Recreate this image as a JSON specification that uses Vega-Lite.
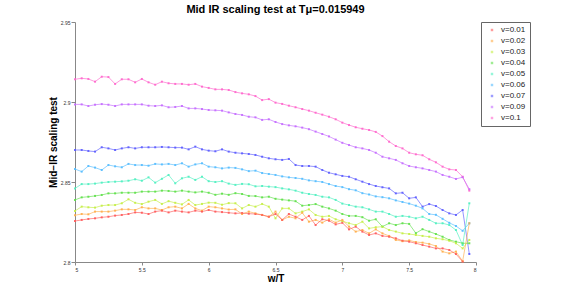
{
"$schema": "https://vega.github.io/schema/vega-lite/v6.json",
"width": 401, "height": 240,
"autosize": {"type": "none"},
"padding": {"left": 75, "top": 22, "right": 105, "bottom": 32},
"title": {"text": "Mid IR scaling test at Tμ=0.015949", "font": "Liberation Sans", "fontSize": 11, "fontWeight": "bold", "anchor": "middle", "offset": 5, "color": "#000"},
"config": {"view": {"stroke": null}, "font": "Liberation Sans"},
"data": {"values": [
{"w":5,"s":"v=0.1","y":2.9142},{"w":5.05,"s":"v=0.1","y":2.9148},{"w":5.1,"s":"v=0.1","y":2.9144},{"w":5.15,"s":"v=0.1","y":2.9127},{"w":5.2,"s":"v=0.1","y":2.9158},{"w":5.25,"s":"v=0.1","y":2.9156},{"w":5.3,"s":"v=0.1","y":2.9113},{"w":5.35,"s":"v=0.1","y":2.9142},{"w":5.4,"s":"v=0.1","y":2.9142},{"w":5.45,"s":"v=0.1","y":2.9123},{"w":5.5,"s":"v=0.1","y":2.9144},{"w":5.55,"s":"v=0.1","y":2.9123},{"w":5.6,"s":"v=0.1","y":2.9108},{"w":5.65,"s":"v=0.1","y":2.9127},{"w":5.7,"s":"v=0.1","y":2.9117},{"w":5.75,"s":"v=0.1","y":2.9113},{"w":5.8,"s":"v=0.1","y":2.9113},{"w":5.85,"s":"v=0.1","y":2.9108},{"w":5.9,"s":"v=0.1","y":2.9113},{"w":5.95,"s":"v=0.1","y":2.9096},
{"w":6,"s":"v=0.1","y":2.9088},{"w":6.05,"s":"v=0.1","y":2.9079},{"w":6.1,"s":"v=0.1","y":2.9079},{"w":6.15,"s":"v=0.1","y":2.9075},{"w":6.2,"s":"v=0.1","y":2.9062},{"w":6.25,"s":"v=0.1","y":2.9054},{"w":6.3,"s":"v=0.1","y":2.9048},{"w":6.35,"s":"v=0.1","y":2.9037},{"w":6.4,"s":"v=0.1","y":2.9012},{"w":6.45,"s":"v=0.1","y":2.9018},{"w":6.5,"s":"v=0.1","y":2.8996},{"w":6.55,"s":"v=0.1","y":2.8988},{"w":6.6,"s":"v=0.1","y":2.8977},{"w":6.65,"s":"v=0.1","y":2.8967},{"w":6.7,"s":"v=0.1","y":2.8956},{"w":6.75,"s":"v=0.1","y":2.8946},{"w":6.8,"s":"v=0.1","y":2.8933},{"w":6.85,"s":"v=0.1","y":2.8921},{"w":6.9,"s":"v=0.1","y":2.8908},{"w":6.95,"s":"v=0.1","y":2.8892},
{"w":7,"s":"v=0.1","y":2.8871},{"w":7.05,"s":"v=0.1","y":2.8856},{"w":7.1,"s":"v=0.1","y":2.8842},{"w":7.15,"s":"v=0.1","y":2.8833},{"w":7.2,"s":"v=0.1","y":2.8825},{"w":7.25,"s":"v=0.1","y":2.8813},{"w":7.3,"s":"v=0.1","y":2.8787},{"w":7.35,"s":"v=0.1","y":2.8752},{"w":7.4,"s":"v=0.1","y":2.8725},{"w":7.45,"s":"v=0.1","y":2.871},{"w":7.5,"s":"v=0.1","y":2.8683},{"w":7.55,"s":"v=0.1","y":2.8673},{"w":7.6,"s":"v=0.1","y":2.8667},{"w":7.65,"s":"v=0.1","y":2.8642},{"w":7.7,"s":"v=0.1","y":2.8623},{"w":7.75,"s":"v=0.1","y":2.8596},{"w":7.8,"s":"v=0.1","y":2.8579},{"w":7.85,"s":"v=0.1","y":2.8575},{"w":7.9,"s":"v=0.1","y":2.8533},{"w":7.95,"s":"v=0.1","y":2.8446},

{"w":5,"s":"v=0.09","y":2.8985},{"w":5.05,"s":"v=0.09","y":2.8985},{"w":5.1,"s":"v=0.09","y":2.8975},{"w":5.15,"s":"v=0.09","y":2.8983},{"w":5.2,"s":"v=0.09","y":2.8987},{"w":5.25,"s":"v=0.09","y":2.8983},{"w":5.3,"s":"v=0.09","y":2.8975},{"w":5.35,"s":"v=0.09","y":2.8985},{"w":5.4,"s":"v=0.09","y":2.8985},{"w":5.45,"s":"v=0.09","y":2.8985},{"w":5.5,"s":"v=0.09","y":2.8985},{"w":5.55,"s":"v=0.09","y":2.8977},{"w":5.6,"s":"v=0.09","y":2.8975},{"w":5.65,"s":"v=0.09","y":2.8979},{"w":5.7,"s":"v=0.09","y":2.8967},{"w":5.75,"s":"v=0.09","y":2.8969},{"w":5.8,"s":"v=0.09","y":2.8975},{"w":5.85,"s":"v=0.09","y":2.896},{"w":5.9,"s":"v=0.09","y":2.896},{"w":5.95,"s":"v=0.09","y":2.8956},
{"w":6,"s":"v=0.09","y":2.895},{"w":6.05,"s":"v=0.09","y":2.8948},{"w":6.1,"s":"v=0.09","y":2.8946},{"w":6.15,"s":"v=0.09","y":2.8935},{"w":6.2,"s":"v=0.09","y":2.8925},{"w":6.25,"s":"v=0.09","y":2.8919},{"w":6.3,"s":"v=0.09","y":2.8908},{"w":6.35,"s":"v=0.09","y":2.8904},{"w":6.4,"s":"v=0.09","y":2.8888},{"w":6.45,"s":"v=0.09","y":2.8892},{"w":6.5,"s":"v=0.09","y":2.8875},{"w":6.55,"s":"v=0.09","y":2.8862},{"w":6.6,"s":"v=0.09","y":2.8854},{"w":6.65,"s":"v=0.09","y":2.8848},{"w":6.7,"s":"v=0.09","y":2.884},{"w":6.75,"s":"v=0.09","y":2.883},{"w":6.8,"s":"v=0.09","y":2.8815},{"w":6.85,"s":"v=0.09","y":2.88},{"w":6.9,"s":"v=0.09","y":2.8785},{"w":6.95,"s":"v=0.09","y":2.8765},
{"w":7,"s":"v=0.09","y":2.8745},{"w":7.05,"s":"v=0.09","y":2.8731},{"w":7.1,"s":"v=0.09","y":2.8717},{"w":7.15,"s":"v=0.09","y":2.871},{"w":7.2,"s":"v=0.09","y":2.87},{"w":7.25,"s":"v=0.09","y":2.8683},{"w":7.3,"s":"v=0.09","y":2.8658},{"w":7.35,"s":"v=0.09","y":2.8648},{"w":7.4,"s":"v=0.09","y":2.8638},{"w":7.45,"s":"v=0.09","y":2.8617},{"w":7.5,"s":"v=0.09","y":2.86},{"w":7.55,"s":"v=0.09","y":2.8592},{"w":7.6,"s":"v=0.09","y":2.8585},{"w":7.65,"s":"v=0.09","y":2.8575},{"w":7.7,"s":"v=0.09","y":2.8565},{"w":7.75,"s":"v=0.09","y":2.8544},{"w":7.8,"s":"v=0.09","y":2.8533},{"w":7.85,"s":"v=0.09","y":2.8519},{"w":7.9,"s":"v=0.09","y":2.853},{"w":7.95,"s":"v=0.09","y":2.8455},

{"w":5,"s":"v=0.07","y":2.87},{"w":5.05,"s":"v=0.07","y":2.87},{"w":5.1,"s":"v=0.07","y":2.8694},{"w":5.15,"s":"v=0.07","y":2.869},{"w":5.2,"s":"v=0.07","y":2.8717},{"w":5.25,"s":"v=0.07","y":2.871},{"w":5.3,"s":"v=0.07","y":2.87},{"w":5.35,"s":"v=0.07","y":2.871},{"w":5.4,"s":"v=0.07","y":2.8717},{"w":5.45,"s":"v=0.07","y":2.871},{"w":5.5,"s":"v=0.07","y":2.8717},{"w":5.55,"s":"v=0.07","y":2.8717},{"w":5.6,"s":"v=0.07","y":2.8717},{"w":5.65,"s":"v=0.07","y":2.8719},{"w":5.7,"s":"v=0.07","y":2.8717},{"w":5.75,"s":"v=0.07","y":2.8715},{"w":5.8,"s":"v=0.07","y":2.8715},{"w":5.85,"s":"v=0.07","y":2.8704},{"w":5.9,"s":"v=0.07","y":2.8721},{"w":5.95,"s":"v=0.07","y":2.8704},
{"w":6,"s":"v=0.07","y":2.8696},{"w":6.05,"s":"v=0.07","y":2.8692},{"w":6.1,"s":"v=0.07","y":2.8704},{"w":6.15,"s":"v=0.07","y":2.869},{"w":6.2,"s":"v=0.07","y":2.8683},{"w":6.25,"s":"v=0.07","y":2.8679},{"w":6.3,"s":"v=0.07","y":2.8675},{"w":6.35,"s":"v=0.07","y":2.8669},{"w":6.4,"s":"v=0.07","y":2.8658},{"w":6.45,"s":"v=0.07","y":2.8648},{"w":6.5,"s":"v=0.07","y":2.8642},{"w":6.55,"s":"v=0.07","y":2.8638},{"w":6.6,"s":"v=0.07","y":2.8644},{"w":6.65,"s":"v=0.07","y":2.8606},{"w":6.7,"s":"v=0.07","y":2.86},{"w":6.75,"s":"v=0.07","y":2.86},{"w":6.8,"s":"v=0.07","y":2.8596},{"w":6.85,"s":"v=0.07","y":2.8575},{"w":6.9,"s":"v=0.07","y":2.8558},{"w":6.95,"s":"v=0.07","y":2.8548},
{"w":7,"s":"v=0.07","y":2.8538},{"w":7.05,"s":"v=0.07","y":2.8533},{"w":7.1,"s":"v=0.07","y":2.8517},{"w":7.15,"s":"v=0.07","y":2.8502},{"w":7.2,"s":"v=0.07","y":2.8487},{"w":7.25,"s":"v=0.07","y":2.8475},{"w":7.3,"s":"v=0.07","y":2.8467},{"w":7.35,"s":"v=0.07","y":2.846},{"w":7.4,"s":"v=0.07","y":2.8429},{"w":7.45,"s":"v=0.07","y":2.8433},{"w":7.5,"s":"v=0.07","y":2.8398},{"w":7.55,"s":"v=0.07","y":2.8404},{"w":7.6,"s":"v=0.07","y":2.8346},{"w":7.65,"s":"v=0.07","y":2.8362},{"w":7.7,"s":"v=0.07","y":2.835},{"w":7.75,"s":"v=0.07","y":2.8325},{"w":7.8,"s":"v=0.07","y":2.8304},{"w":7.85,"s":"v=0.07","y":2.8294},{"w":7.9,"s":"v=0.07","y":2.8325},{"w":7.95,"s":"v=0.07","y":2.805},

{"w":5,"s":"v=0.06","y":2.8581},{"w":5.05,"s":"v=0.06","y":2.8565},{"w":5.1,"s":"v=0.06","y":2.86},{"w":5.15,"s":"v=0.06","y":2.859},{"w":5.2,"s":"v=0.06","y":2.8575},{"w":5.25,"s":"v=0.06","y":2.8606},{"w":5.3,"s":"v=0.06","y":2.8598},{"w":5.35,"s":"v=0.06","y":2.8592},{"w":5.4,"s":"v=0.06","y":2.8613},{"w":5.45,"s":"v=0.06","y":2.8606},{"w":5.5,"s":"v=0.06","y":2.8606},{"w":5.55,"s":"v=0.06","y":2.8602},{"w":5.6,"s":"v=0.06","y":2.8613},{"w":5.65,"s":"v=0.06","y":2.861},{"w":5.7,"s":"v=0.06","y":2.8613},{"w":5.75,"s":"v=0.06","y":2.8606},{"w":5.8,"s":"v=0.06","y":2.8617},{"w":5.85,"s":"v=0.06","y":2.8596},{"w":5.9,"s":"v=0.06","y":2.861},{"w":5.95,"s":"v=0.06","y":2.8617},
{"w":6,"s":"v=0.06","y":2.8596},{"w":6.05,"s":"v=0.06","y":2.8592},{"w":6.1,"s":"v=0.06","y":2.8585},{"w":6.15,"s":"v=0.06","y":2.859},{"w":6.2,"s":"v=0.06","y":2.8588},{"w":6.25,"s":"v=0.06","y":2.8579},{"w":6.3,"s":"v=0.06","y":2.8568},{"w":6.35,"s":"v=0.06","y":2.8571},{"w":6.4,"s":"v=0.06","y":2.8556},{"w":6.45,"s":"v=0.06","y":2.855},{"w":6.5,"s":"v=0.06","y":2.8544},{"w":6.55,"s":"v=0.06","y":2.8535},{"w":6.6,"s":"v=0.06","y":2.8529},{"w":6.65,"s":"v=0.06","y":2.8525},{"w":6.7,"s":"v=0.06","y":2.852},{"w":6.75,"s":"v=0.06","y":2.851},{"w":6.8,"s":"v=0.06","y":2.8505},{"w":6.85,"s":"v=0.06","y":2.85},{"w":6.9,"s":"v=0.06","y":2.8487},{"w":6.95,"s":"v=0.06","y":2.8475},
{"w":7,"s":"v=0.06","y":2.8468},{"w":7.05,"s":"v=0.06","y":2.8455},{"w":7.1,"s":"v=0.06","y":2.8448},{"w":7.15,"s":"v=0.06","y":2.843},{"w":7.2,"s":"v=0.06","y":2.8422},{"w":7.25,"s":"v=0.06","y":2.841},{"w":7.3,"s":"v=0.06","y":2.8405},{"w":7.35,"s":"v=0.06","y":2.8398},{"w":7.4,"s":"v=0.06","y":2.8385},{"w":7.45,"s":"v=0.06","y":2.8375},{"w":7.5,"s":"v=0.06","y":2.8365},{"w":7.55,"s":"v=0.06","y":2.8352},{"w":7.6,"s":"v=0.06","y":2.8335},{"w":7.65,"s":"v=0.06","y":2.83},{"w":7.7,"s":"v=0.06","y":2.8295},{"w":7.75,"s":"v=0.06","y":2.827},{"w":7.8,"s":"v=0.06","y":2.8245},{"w":7.85,"s":"v=0.06","y":2.8225},{"w":7.9,"s":"v=0.06","y":2.8195},{"w":7.95,"s":"v=0.06","y":2.8242},

{"w":5,"s":"v=0.05","y":2.846},{"w":5.05,"s":"v=0.05","y":2.8487},{"w":5.1,"s":"v=0.05","y":2.8487},{"w":5.15,"s":"v=0.05","y":2.849},{"w":5.2,"s":"v=0.05","y":2.8496},{"w":5.25,"s":"v=0.05","y":2.85},{"w":5.3,"s":"v=0.05","y":2.8502},{"w":5.35,"s":"v=0.05","y":2.8504},{"w":5.4,"s":"v=0.05","y":2.8508},{"w":5.45,"s":"v=0.05","y":2.8517},{"w":5.5,"s":"v=0.05","y":2.8508},{"w":5.55,"s":"v=0.05","y":2.8529},{"w":5.6,"s":"v=0.05","y":2.8496},{"w":5.65,"s":"v=0.05","y":2.852},{"w":5.7,"s":"v=0.05","y":2.8544},{"w":5.75,"s":"v=0.05","y":2.8492},{"w":5.8,"s":"v=0.05","y":2.8523},{"w":5.85,"s":"v=0.05","y":2.8533},{"w":5.9,"s":"v=0.05","y":2.8513},{"w":5.95,"s":"v=0.05","y":2.8533},
{"w":6,"s":"v=0.05","y":2.8505},{"w":6.05,"s":"v=0.05","y":2.85},{"w":6.1,"s":"v=0.05","y":2.8505},{"w":6.15,"s":"v=0.05","y":2.849},{"w":6.2,"s":"v=0.05","y":2.8482},{"w":6.25,"s":"v=0.05","y":2.8488},{"w":6.3,"s":"v=0.05","y":2.8486},{"w":6.35,"s":"v=0.05","y":2.8473},{"w":6.4,"s":"v=0.05","y":2.8475},{"w":6.45,"s":"v=0.05","y":2.8471},{"w":6.5,"s":"v=0.05","y":2.8468},{"w":6.55,"s":"v=0.05","y":2.846},{"w":6.6,"s":"v=0.05","y":2.8454},{"w":6.65,"s":"v=0.05","y":2.8446},{"w":6.7,"s":"v=0.05","y":2.8433},{"w":6.75,"s":"v=0.05","y":2.8425},{"w":6.8,"s":"v=0.05","y":2.8419},{"w":6.85,"s":"v=0.05","y":2.8408},{"w":6.9,"s":"v=0.05","y":2.8404},{"w":6.95,"s":"v=0.05","y":2.8388},
{"w":7,"s":"v=0.05","y":2.8365},{"w":7.05,"s":"v=0.05","y":2.8356},{"w":7.1,"s":"v=0.05","y":2.8346},{"w":7.15,"s":"v=0.05","y":2.8342},{"w":7.2,"s":"v=0.05","y":2.8329},{"w":7.25,"s":"v=0.05","y":2.8315},{"w":7.3,"s":"v=0.05","y":2.8315},{"w":7.35,"s":"v=0.05","y":2.83},{"w":7.4,"s":"v=0.05","y":2.8283},{"w":7.45,"s":"v=0.05","y":2.8288},{"w":7.5,"s":"v=0.05","y":2.8283},{"w":7.55,"s":"v=0.05","y":2.8273},{"w":7.6,"s":"v=0.05","y":2.8283},{"w":7.65,"s":"v=0.05","y":2.8263},{"w":7.7,"s":"v=0.05","y":2.8242},{"w":7.75,"s":"v=0.05","y":2.8242},{"w":7.8,"s":"v=0.05","y":2.8231},{"w":7.85,"s":"v=0.05","y":2.82},{"w":7.9,"s":"v=0.05","y":2.8106},{"w":7.95,"s":"v=0.05","y":2.8367},

{"w":5,"s":"v=0.04","y":2.8388},{"w":5.05,"s":"v=0.04","y":2.8404},{"w":5.1,"s":"v=0.04","y":2.8408},{"w":5.15,"s":"v=0.04","y":2.8413},{"w":5.2,"s":"v=0.04","y":2.8419},{"w":5.25,"s":"v=0.04","y":2.8429},{"w":5.3,"s":"v=0.04","y":2.8429},{"w":5.35,"s":"v=0.04","y":2.8433},{"w":5.4,"s":"v=0.04","y":2.8433},{"w":5.45,"s":"v=0.04","y":2.8433},{"w":5.5,"s":"v=0.04","y":2.844},{"w":5.55,"s":"v=0.04","y":2.844},{"w":5.6,"s":"v=0.04","y":2.844},{"w":5.65,"s":"v=0.04","y":2.8446},{"w":5.7,"s":"v=0.04","y":2.8444},{"w":5.75,"s":"v=0.04","y":2.844},{"w":5.8,"s":"v=0.04","y":2.8446},{"w":5.85,"s":"v=0.04","y":2.844},{"w":5.9,"s":"v=0.04","y":2.8435},{"w":5.95,"s":"v=0.04","y":2.844},
{"w":6,"s":"v=0.04","y":2.8433},{"w":6.05,"s":"v=0.04","y":2.842},{"w":6.1,"s":"v=0.04","y":2.8427},{"w":6.15,"s":"v=0.04","y":2.842},{"w":6.2,"s":"v=0.04","y":2.843},{"w":6.25,"s":"v=0.04","y":2.8425},{"w":6.3,"s":"v=0.04","y":2.8413},{"w":6.35,"s":"v=0.04","y":2.8412},{"w":6.4,"s":"v=0.04","y":2.8404},{"w":6.45,"s":"v=0.04","y":2.8408},{"w":6.5,"s":"v=0.04","y":2.8395},{"w":6.55,"s":"v=0.04","y":2.839},{"w":6.6,"s":"v=0.04","y":2.8385},{"w":6.65,"s":"v=0.04","y":2.838},{"w":6.7,"s":"v=0.04","y":2.8352},{"w":6.75,"s":"v=0.04","y":2.8356},{"w":6.8,"s":"v=0.04","y":2.8362},{"w":6.85,"s":"v=0.04","y":2.8346},{"w":6.9,"s":"v=0.04","y":2.8335},{"w":6.95,"s":"v=0.04","y":2.8321},
{"w":7,"s":"v=0.04","y":2.83},{"w":7.05,"s":"v=0.04","y":2.8288},{"w":7.1,"s":"v=0.04","y":2.8288},{"w":7.15,"s":"v=0.04","y":2.828},{"w":7.2,"s":"v=0.04","y":2.8258},{"w":7.25,"s":"v=0.04","y":2.8267},{"w":7.3,"s":"v=0.04","y":2.8221},{"w":7.35,"s":"v=0.04","y":2.8242},{"w":7.4,"s":"v=0.04","y":2.8231},{"w":7.45,"s":"v=0.04","y":2.8242},{"w":7.5,"s":"v=0.04","y":2.8238},{"w":7.55,"s":"v=0.04","y":2.818},{"w":7.6,"s":"v=0.04","y":2.8205},{"w":7.65,"s":"v=0.04","y":2.819},{"w":7.7,"s":"v=0.04","y":2.8175},{"w":7.75,"s":"v=0.04","y":2.8158},{"w":7.8,"s":"v=0.04","y":2.8138},{"w":7.85,"s":"v=0.04","y":2.8127},{"w":7.9,"s":"v=0.04","y":2.8117},{"w":7.95,"s":"v=0.04","y":2.8117},

{"w":5,"s":"v=0.03","y":2.8319},{"w":5.05,"s":"v=0.03","y":2.8346},{"w":5.1,"s":"v=0.03","y":2.8342},{"w":5.15,"s":"v=0.03","y":2.834},{"w":5.2,"s":"v=0.03","y":2.8352},{"w":5.25,"s":"v=0.03","y":2.8356},{"w":5.3,"s":"v=0.03","y":2.8356},{"w":5.35,"s":"v=0.03","y":2.8367},{"w":5.4,"s":"v=0.03","y":2.8392},{"w":5.45,"s":"v=0.03","y":2.837},{"w":5.5,"s":"v=0.03","y":2.8362},{"w":5.55,"s":"v=0.03","y":2.8377},{"w":5.6,"s":"v=0.03","y":2.8388},{"w":5.65,"s":"v=0.03","y":2.8363},{"w":5.7,"s":"v=0.03","y":2.838},{"w":5.75,"s":"v=0.03","y":2.837},{"w":5.8,"s":"v=0.03","y":2.836},{"w":5.85,"s":"v=0.03","y":2.8388},{"w":5.9,"s":"v=0.03","y":2.8356},{"w":5.95,"s":"v=0.03","y":2.8363},
{"w":6,"s":"v=0.03","y":2.8371},{"w":6.05,"s":"v=0.03","y":2.837},{"w":6.1,"s":"v=0.03","y":2.8358},{"w":6.15,"s":"v=0.03","y":2.8368},{"w":6.2,"s":"v=0.03","y":2.8367},{"w":6.25,"s":"v=0.03","y":2.8335},{"w":6.3,"s":"v=0.03","y":2.8356},{"w":6.35,"s":"v=0.03","y":2.8346},{"w":6.4,"s":"v=0.03","y":2.8363},{"w":6.45,"s":"v=0.03","y":2.8346},{"w":6.5,"s":"v=0.03","y":2.8273},{"w":6.55,"s":"v=0.03","y":2.8335},{"w":6.6,"s":"v=0.03","y":2.8335},{"w":6.65,"s":"v=0.03","y":2.8304},{"w":6.7,"s":"v=0.03","y":2.8315},{"w":6.75,"s":"v=0.03","y":2.8329},{"w":6.8,"s":"v=0.03","y":2.8294},{"w":6.85,"s":"v=0.03","y":2.8283},{"w":6.9,"s":"v=0.03","y":2.8288},{"w":6.95,"s":"v=0.03","y":2.8267},
{"w":7,"s":"v=0.03","y":2.8255},{"w":7.05,"s":"v=0.03","y":2.8242},{"w":7.1,"s":"v=0.03","y":2.8231},{"w":7.15,"s":"v=0.03","y":2.8252},{"w":7.2,"s":"v=0.03","y":2.821},{"w":7.25,"s":"v=0.03","y":2.8217},{"w":7.3,"s":"v=0.03","y":2.8221},{"w":7.35,"s":"v=0.03","y":2.82},{"w":7.4,"s":"v=0.03","y":2.819},{"w":7.45,"s":"v=0.03","y":2.8179},{"w":7.5,"s":"v=0.03","y":2.8175},{"w":7.55,"s":"v=0.03","y":2.8169},{"w":7.6,"s":"v=0.03","y":2.8163},{"w":7.65,"s":"v=0.03","y":2.8158},{"w":7.7,"s":"v=0.03","y":2.8148},{"w":7.75,"s":"v=0.03","y":2.8142},{"w":7.8,"s":"v=0.03","y":2.8133},{"w":7.85,"s":"v=0.03","y":2.8117},{"w":7.9,"s":"v=0.03","y":2.8085},{"w":7.95,"s":"v=0.03","y":2.8138},

{"w":5,"s":"v=0.02","y":2.8292},{"w":5.05,"s":"v=0.02","y":2.83},{"w":5.1,"s":"v=0.02","y":2.8298},{"w":5.15,"s":"v=0.02","y":2.8315},{"w":5.2,"s":"v=0.02","y":2.8315},{"w":5.25,"s":"v=0.02","y":2.8315},{"w":5.3,"s":"v=0.02","y":2.8321},{"w":5.35,"s":"v=0.02","y":2.8329},{"w":5.4,"s":"v=0.02","y":2.8329},{"w":5.45,"s":"v=0.02","y":2.8325},{"w":5.5,"s":"v=0.02","y":2.8342},{"w":5.55,"s":"v=0.02","y":2.8335},{"w":5.6,"s":"v=0.02","y":2.8335},{"w":5.65,"s":"v=0.02","y":2.8325},{"w":5.7,"s":"v=0.02","y":2.8342},{"w":5.75,"s":"v=0.02","y":2.8346},{"w":5.8,"s":"v=0.02","y":2.8335},{"w":5.85,"s":"v=0.02","y":2.8363},{"w":5.9,"s":"v=0.02","y":2.8335},{"w":5.95,"s":"v=0.02","y":2.8321},
{"w":6,"s":"v=0.02","y":2.8346},{"w":6.05,"s":"v=0.02","y":2.8342},{"w":6.1,"s":"v=0.02","y":2.8335},{"w":6.15,"s":"v=0.02","y":2.8328},{"w":6.2,"s":"v=0.02","y":2.8329},{"w":6.25,"s":"v=0.02","y":2.83},{"w":6.3,"s":"v=0.02","y":2.8315},{"w":6.35,"s":"v=0.02","y":2.8304},{"w":6.4,"s":"v=0.02","y":2.8294},{"w":6.45,"s":"v=0.02","y":2.8283},{"w":6.5,"s":"v=0.02","y":2.8315},{"w":6.55,"s":"v=0.02","y":2.8263},{"w":6.6,"s":"v=0.02","y":2.8283},{"w":6.65,"s":"v=0.02","y":2.8273},{"w":6.7,"s":"v=0.02","y":2.8308},{"w":6.75,"s":"v=0.02","y":2.8252},{"w":6.8,"s":"v=0.02","y":2.8263},{"w":6.85,"s":"v=0.02","y":2.8246},{"w":6.9,"s":"v=0.02","y":2.8267},{"w":6.95,"s":"v=0.02","y":2.8246},
{"w":7,"s":"v=0.02","y":2.8263},{"w":7.05,"s":"v=0.02","y":2.8221},{"w":7.1,"s":"v=0.02","y":2.819},{"w":7.15,"s":"v=0.02","y":2.82},{"w":7.2,"s":"v=0.02","y":2.8179},{"w":7.25,"s":"v=0.02","y":2.8204},{"w":7.3,"s":"v=0.02","y":2.8179},{"w":7.35,"s":"v=0.02","y":2.8163},{"w":7.4,"s":"v=0.02","y":2.8138},{"w":7.45,"s":"v=0.02","y":2.813},{"w":7.5,"s":"v=0.02","y":2.8135},{"w":7.55,"s":"v=0.02","y":2.8125},{"w":7.6,"s":"v=0.02","y":2.8121},{"w":7.65,"s":"v=0.02","y":2.8113},{"w":7.7,"s":"v=0.02","y":2.81},{"w":7.75,"s":"v=0.02","y":2.8065},{"w":7.8,"s":"v=0.02","y":2.8054},{"w":7.85,"s":"v=0.02","y":2.8065},{"w":7.9,"s":"v=0.02","y":2.8005},{"w":7.95,"s":"v=0.02","y":2.8242},

{"w":5,"s":"v=0.01","y":2.8256},{"w":5.05,"s":"v=0.01","y":2.8263},{"w":5.1,"s":"v=0.01","y":2.8269},{"w":5.15,"s":"v=0.01","y":2.8273},{"w":5.2,"s":"v=0.01","y":2.8279},{"w":5.25,"s":"v=0.01","y":2.8283},{"w":5.3,"s":"v=0.01","y":2.829},{"w":5.35,"s":"v=0.01","y":2.8294},{"w":5.4,"s":"v=0.01","y":2.83},{"w":5.45,"s":"v=0.01","y":2.831},{"w":5.5,"s":"v=0.01","y":2.8308},{"w":5.55,"s":"v=0.01","y":2.83},{"w":5.6,"s":"v=0.01","y":2.8315},{"w":5.65,"s":"v=0.01","y":2.8321},{"w":5.7,"s":"v=0.01","y":2.831},{"w":5.75,"s":"v=0.01","y":2.8321},{"w":5.8,"s":"v=0.01","y":2.8315},{"w":5.85,"s":"v=0.01","y":2.831},{"w":5.9,"s":"v=0.01","y":2.8321},{"w":5.95,"s":"v=0.01","y":2.8315},
{"w":6,"s":"v=0.01","y":2.8325},{"w":6.05,"s":"v=0.01","y":2.8315},{"w":6.1,"s":"v=0.01","y":2.8312},{"w":6.15,"s":"v=0.01","y":2.8308},{"w":6.2,"s":"v=0.01","y":2.8304},{"w":6.25,"s":"v=0.01","y":2.8306},{"w":6.3,"s":"v=0.01","y":2.8302},{"w":6.35,"s":"v=0.01","y":2.83},{"w":6.4,"s":"v=0.01","y":2.8294},{"w":6.45,"s":"v=0.01","y":2.8283},{"w":6.5,"s":"v=0.01","y":2.83},{"w":6.55,"s":"v=0.01","y":2.8263},{"w":6.6,"s":"v=0.01","y":2.83},{"w":6.65,"s":"v=0.01","y":2.8283},{"w":6.7,"s":"v=0.01","y":2.8263},{"w":6.75,"s":"v=0.01","y":2.8288},{"w":6.8,"s":"v=0.01","y":2.8231},{"w":6.85,"s":"v=0.01","y":2.8267},{"w":6.9,"s":"v=0.01","y":2.8258},{"w":6.95,"s":"v=0.01","y":2.8235},
{"w":7,"s":"v=0.01","y":2.8245},{"w":7.05,"s":"v=0.01","y":2.8204},{"w":7.1,"s":"v=0.01","y":2.8221},{"w":7.15,"s":"v=0.01","y":2.819},{"w":7.2,"s":"v=0.01","y":2.8169},{"w":7.25,"s":"v=0.01","y":2.8179},{"w":7.3,"s":"v=0.01","y":2.8163},{"w":7.35,"s":"v=0.01","y":2.8158},{"w":7.4,"s":"v=0.01","y":2.8148},{"w":7.45,"s":"v=0.01","y":2.8133},{"w":7.5,"s":"v=0.01","y":2.8127},{"w":7.55,"s":"v=0.01","y":2.8117},{"w":7.6,"s":"v=0.01","y":2.8106},{"w":7.65,"s":"v=0.01","y":2.8096},{"w":7.7,"s":"v=0.01","y":2.8085},{"w":7.75,"s":"v=0.01","y":2.8085},{"w":7.8,"s":"v=0.01","y":2.8075},{"w":7.85,"s":"v=0.01","y":2.805},{"w":7.9,"s":"v=0.01","y":2.8003}
]},
"encoding": {
  "x": {"field": "w", "type": "quantitative", "scale": {"domain": [5, 8], "nice": false, "zero": false},
        "axis": {"title": "w/T", "values": [5, 5.5, 6, 6.5, 7, 7.5, 8], "format": "~g", "grid": false, "labelFontSize": 5, "labelColor": "#333", "titleFontSize": 10, "titleFontWeight": "bold", "titleColor": "#000", "tickSize": 3, "labelPadding": 2, "titlePadding": 1, "domainColor": "#888", "tickColor": "#888"}},
  "y": {"field": "y", "type": "quantitative", "scale": {"domain": [2.8, 2.95], "nice": false, "zero": false},
        "axis": {"title": "Mid−IR scaling test", "values": [2.8, 2.85, 2.9, 2.95], "format": "~g", "grid": false, "labelFontSize": 5, "labelColor": "#333", "titleFontSize": 10, "titleFontWeight": "bold", "titleColor": "#000", "tickSize": 4, "labelPadding": 1, "titlePadding": 2, "domainColor": "#888", "tickColor": "#888"}},
  "color": {"field": "s", "type": "nominal",
    "scale": {"domain": ["v=0.01", "v=0.02", "v=0.03", "v=0.04", "v=0.05", "v=0.06", "v=0.07", "v=0.09", "v=0.1"],
              "range": ["#ff5a5a", "#ffad4a", "#c5ee45", "#5fe04a", "#4ff0c0", "#55bdff", "#5c5cff", "#c46cff", "#ff66cc"]},
    "legend": {"title": null, "orient": "right", "offset": 5, "padding": 4, "strokeColor": "#666", "labelFontSize": 8, "labelColor": "#222", "symbolType": "square", "symbolSize": 6, "symbolStrokeWidth": 0, "symbolOpacity": 0.6, "symbolOffset": 3, "rowPadding": 3, "labelOffset": 5}}
},
"layer": [
  {"mark": {"type": "point", "shape": "square", "filled": true, "size": 4, "opacity": 0.9}, "encoding": {}},
  {"mark": {"type": "line", "strokeWidth": 1, "opacity": 0.65}, "encoding": {}}
]
}
